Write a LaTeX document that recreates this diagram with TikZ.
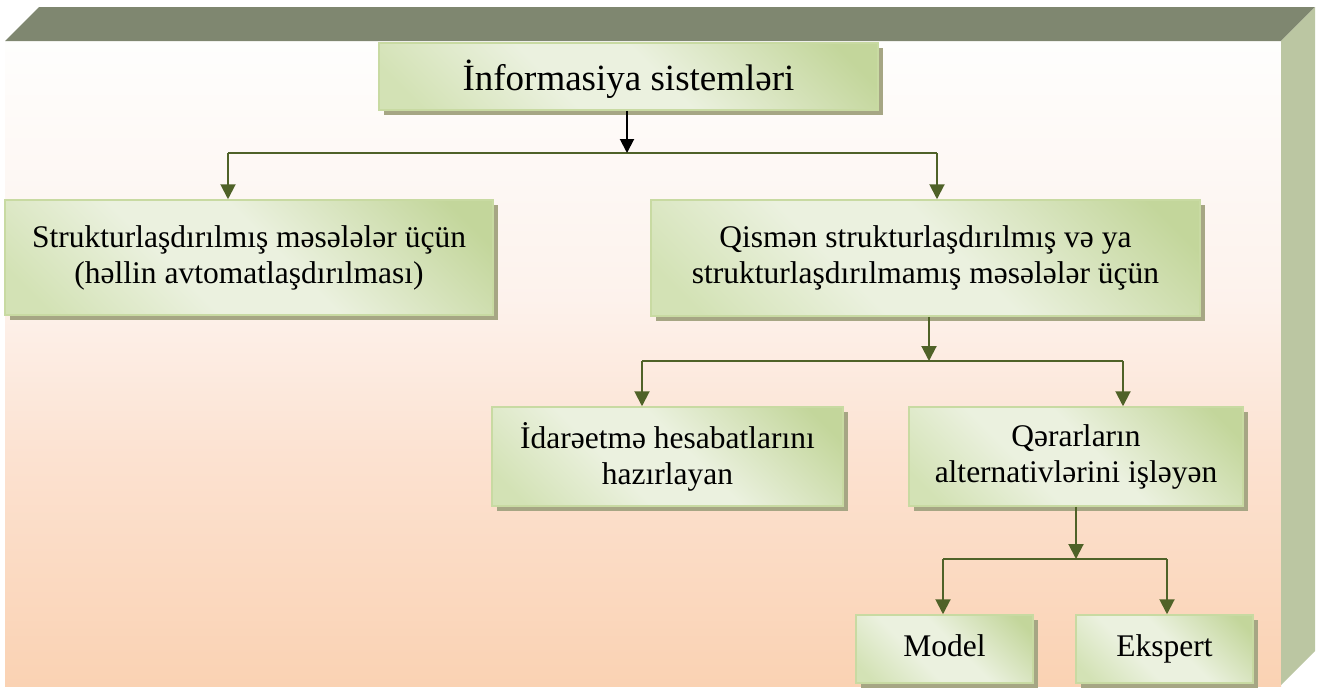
\documentclass[tikz,border=0pt]{standalone}
\usepackage{fontspec}
\setmainfont{Liberation Serif}
\usetikzlibrary{arrows.meta,shadows}

% palette
\definecolor{bandtop}{HTML}{7F8770}
\definecolor{bandside}{HTML}{BBC6A2}
\definecolor{bgtop}{HTML}{FEFEFD}
\definecolor{bgupper}{HTML}{FDF2EC}
\definecolor{bglower}{HTML}{FCE2D1}
\definecolor{bgbottom}{HTML}{FAD2B3}
\definecolor{boxdark}{HTML}{C3D69B}
\definecolor{boxmid}{HTML}{D3E2B5}
\definecolor{boxlight}{HTML}{EBF1DF}
\definecolor{boxedge}{HTML}{C8DAA2}
\definecolor{boxshadow}{HTML}{A6A684}
\definecolor{linkc}{HTML}{4F6228}

% page background: near white at the top, peach at the bottom
\pgfdeclareverticalshading{pageshade}{100bp}{%
  color(0bp)=(bgbottom); color(25bp)=(bgbottom); color(43bp)=(bglower);
  color(55bp)=(bgupper); color(75bp)=(bgtop); color(100bp)=(bgtop)}
% box fill: light band along one diagonal, green towards the corners
\pgfdeclarehorizontalshading{boxshade}{100bp}{%
  color(0bp)=(boxmid); color(20bp)=(boxmid); color(40bp)=(boxlight);
  color(54bp)=(boxlight); color(80bp)=(boxdark); color(100bp)=(boxdark)}

\tikzset{
  box/.style={shading=boxshade, shading angle=45, draw=boxedge, line width=1.5pt,
    inner sep=0pt, align=center, text=black,
    drop shadow={shadow xshift=5pt, shadow yshift=-5pt, fill=boxshadow, opacity=1}},
  txt/.style={font=\fontsize{31.5}{36}\selectfont},
  conn/.style={draw=linkc, line width=2pt},
  arr/.style={conn, -{Triangle[length=15pt,width=15pt]}},
  blackarr/.style={draw=black, line width=2pt, -{Triangle[length=14pt,width=14pt]}},
  leaf/.style={box, txt, minimum width=177pt, minimum height=68pt,
    text height=22pt, text depth=7pt},
}

\begin{document}
\begin{tikzpicture}[x=1pt,y=-1pt]
\useasboundingbox (0,0) rectangle (1326,688);

% bevelled frame
\shade[shading=pageshade] (5,41) rectangle (1281,686);
\fill[bandtop] (5,41) -- (39,7) -- (1315,7) -- (1281,41) -- cycle;
\fill[bandside] (1281,41) -- (1315,7) -- (1315,651) -- (1281,685) -- cycle;

% boxes
\node[box, minimum width=499pt, minimum height=67pt, font=\fontsize{37}{41}\selectfont,
  text height=27pt, text depth=0pt]
  (top) at (628.5,76.5) {İnformasiya sistemləri};
\node[box, txt, minimum width=488pt, minimum height=115pt]
  (left) at (249,257.5) {Strukturlaşdırılmış məsələlər üçün\\(həllin avtomatlaşdırılması)};
\node[box, txt, minimum width=549pt, minimum height=116pt]
  (right) at (925.5,258) {Qismən strukturlaşdırılmış və ya\\strukturlaşdırılmamış məsələlər üçün};
\node[box, txt, minimum width=351pt, minimum height=99pt]
  (report) at (667.5,456.5) {İdarəetmə hesabatlarını\\hazırlayan};
\node[box, txt, minimum width=334pt, minimum height=99pt]
  (decide) at (1076,456.5) {Qərarların\\alternativlərini işləyən};
\node[leaf] (model) at (944.5,649) {Model};
\node[leaf] (expert) at (1164.5,649) {Ekspert};

% first split
\coordinate (s1) at (627,153);
\coordinate (s1l) at (228,153);
\coordinate (s1r) at (937,153);
\draw[conn] (s1l) -- (s1r);
\draw[blackarr] (top.south -| s1) -- (s1);
\draw[arr] (s1l) -- (left.north -| s1l);
\draw[arr] (s1r) -- (right.north -| s1r);

% second split
\coordinate (s2) at (929,361);
\coordinate (s2l) at (642,361);
\coordinate (s2r) at (1123,361);
\draw[conn] (s2l) -- (s2r);
\draw[arr] (right.south -| s2) -- (s2);
\draw[arr] (s2l) -- (report.north -| s2l);
\draw[arr] (s2r) -- (decide.north -| s2r);

% third split
\coordinate (s3) at (1076,559);
\coordinate (s3l) at (943,559);
\coordinate (s3r) at (1167,559);
\draw[conn] (s3l) -- (s3r);
\draw[arr] (decide.south -| s3) -- (s3);
\draw[arr] (s3l) -- (model.north -| s3l);
\draw[arr] (s3r) -- (expert.north -| s3r);
\end{tikzpicture}
\end{document}
